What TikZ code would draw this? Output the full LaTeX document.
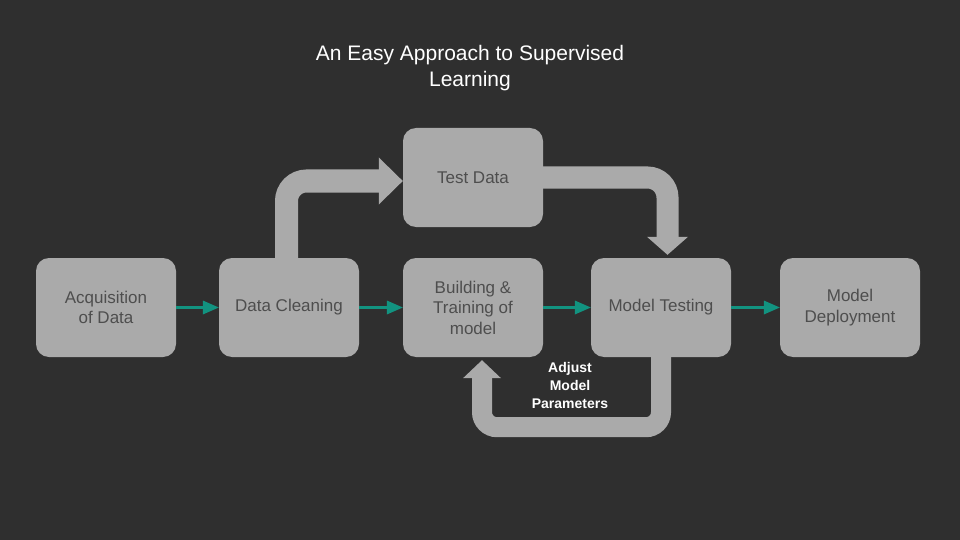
\documentclass[tikz,border=0pt]{standalone}
\usepackage{fontspec}
\setmainfont{Liberation Sans}
\usetikzlibrary{arrows.meta}
\definecolor{bgdark}{RGB}{47,47,47}
\definecolor{boxgray}{RGB}{170,170,170}
\definecolor{boxtext}{RGB}{78,78,78}
\definecolor{flowteal}{RGB}{18,147,128}
\tikzset{
    stage/.style={rectangle, rounded corners=13pt, fill=boxgray, text=boxtext,
    	minimum width=140pt, minimum height=99pt, align=center,
    	font=\fontsize{17}{20.5}\selectfont},
    flow/.style={draw=flowteal, line width=3pt,
    	-{Triangle[length=16pt, width=14pt, line width=0pt]}},
    bigflow/.style={draw=boxgray, line width=#1, rounded corners=20pt}
}
\begin{document}
\begin{tikzpicture}[x=1pt, y=-1pt]
  \fill[bgdark] (0,0) rectangle (960,540);
  \useasboundingbox (0,0) rectangle (960,540);

  \node (title) [text=white, align=center, font=\fontsize{21}{26}\selectfont]
    at (470,68) {An Easy Approach to Supervised\\Learning};

  \node (acq) [stage] at (106,307.5) {Acquisition\\of Data};
  \node (clean) [stage] at (289,307.5) {Data Cleaning};
  \node (build) [stage] at (473,307.5) {Building \&\\Training of\\model};
  \node (test) [stage] at (661,307.5) {Model Testing};
  \node (deploy) [stage] at (850,307.5) {Model\\Deployment};
  \node (tdata) [stage] at (473,177.5) {Test Data};

  \node (adjust) [text=white, align=center,
    font=\bfseries\fontsize{14}{18}\selectfont] at (570,385)
    {Adjust\\Model\\Parameters};

  \draw[flow] (acq) -- (clean);
  \draw[flow] (clean) -- (build);
  \draw[flow] (build) -- (test);
  \draw[flow] (test) -- (deploy);

  \draw[bigflow=23pt, -{Triangle[length=24pt, width=47pt, line width=0pt]}]
    ([xshift=-2.5pt]clean.north) |- ([yshift=-3.5pt]tdata.west);
  \draw[bigflow=22pt, shorten >=3pt,
    -{Triangle[length=18pt, width=41pt, line width=0pt]}]
    (tdata.east) -| ([xshift=6.5pt]test.north);
  \draw[bigflow=20pt, rounded corners=15pt, shorten >=3pt,
    -{Triangle[length=18pt, width=38pt, line width=0pt]}]
    (test.south) -- ++(0,70) -| ([xshift=9pt]build.south);

\end{tikzpicture}
\end{document}
